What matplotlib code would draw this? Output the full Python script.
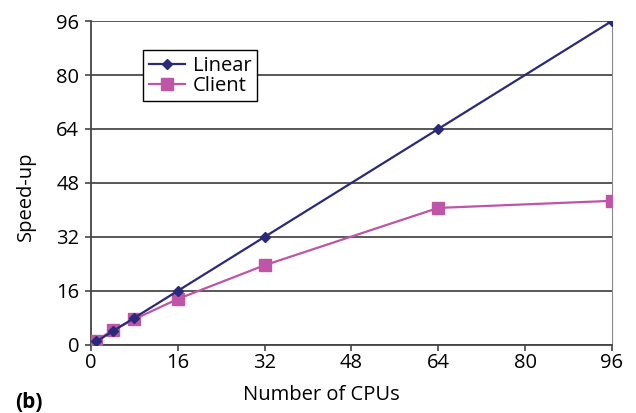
import matplotlib
matplotlib.use("Agg")
import matplotlib.pyplot as plt

cpus = [1, 4, 8, 16, 32, 64, 96]
linear = [1, 4, 8, 16, 32, 64, 96]
client = [1.2, 4.4, 7.6, 13.6, 23.6, 40.6, 42.7]
ticks = [0, 16, 32, 48, 64, 80, 96]

plt.rcParams['font.family'] = ['Open Sans', 'DejaVu Sans']

fig = plt.figure(figsize=(6.36, 4.13), dpi=100)
ax = fig.add_axes([0.143, 0.165, 0.819, 0.784])

ax.plot(cpus, linear, color='#2B2A7A', marker='D', markersize=5.5, lw=1.6, label='Linear', zorder=4)
ax.plot(cpus, client, color='#BE55A6', marker='s', markersize=8.5, lw=1.6, label='Client', zorder=3)

ax.set_xlim(0, 96)
ax.set_ylim(0, 96)
ax.set_xticks(ticks)
ax.set_yticks(ticks)
ax.yaxis.grid(True, color='#4a4a4a', lw=1.3)
ax.set_axisbelow(True)
ax.spines['top'].set_visible(False)
ax.spines['left'].set_color('#444444')
ax.spines['bottom'].set_color('#444444')
ax.spines['right'].set_color('#888888')
ax.spines['left'].set_linewidth(1.3)
ax.spines['bottom'].set_linewidth(1.3)
ax.tick_params(axis='both', labelsize=14.5, direction='out', length=4.5, width=1.2, color='#444444')
ax.tick_params(axis='y', pad=4)
ax.tick_params(axis='x', pad=1.5)

ax.set_xlabel('Number of CPUs', fontsize=14.5)
ax.set_ylabel('Speed-up', fontsize=14.5)
ax.xaxis.set_label_coords(0.443, -0.123)
ax.yaxis.set_label_coords(-0.106, 0.46)

leg = ax.legend(loc='upper left', bbox_to_anchor=(0.1, 0.91), fontsize=14.5, frameon=True,
                fancybox=False, edgecolor='black', framealpha=1, borderpad=0.28,
                handlelength=1.8, handletextpad=0.4, labelspacing=0.0, borderaxespad=0)
leg.get_frame().set_linewidth(1.0)

fig.text(0.0236, 0.012, '(b)', fontsize=15, fontweight='bold', va='baseline')

fig.savefig('out.png', dpi=100)
